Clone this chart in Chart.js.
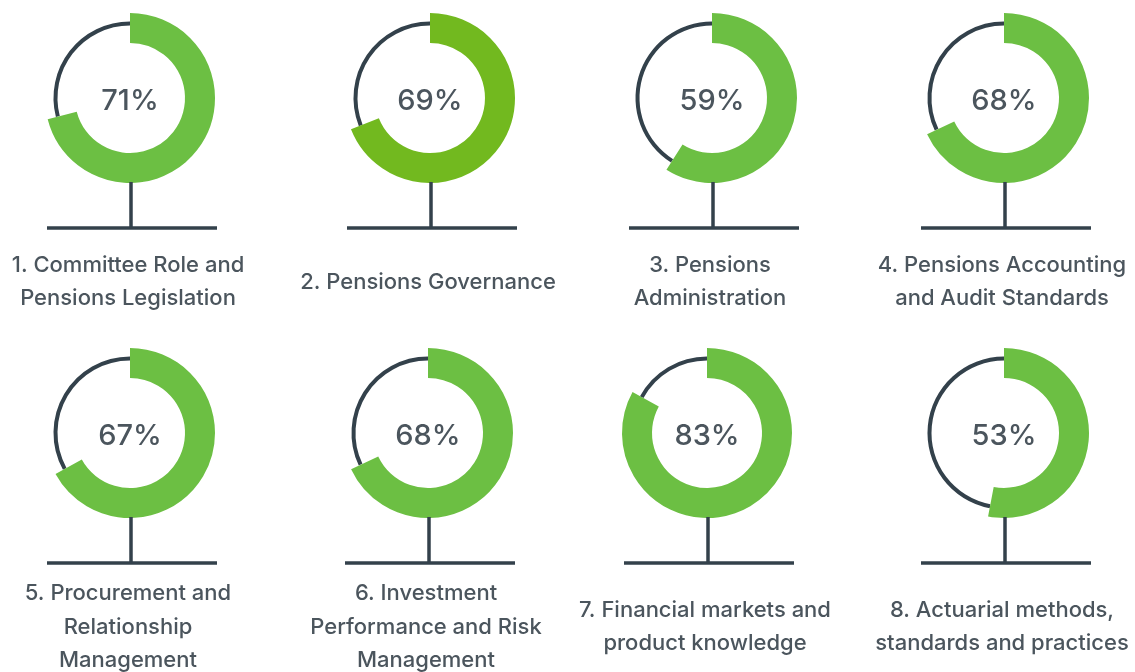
<!DOCTYPE html>
<html><head><meta charset="utf-8">
<script src="https://cdn.jsdelivr.net/npm/chart.js@4.4.0/dist/chart.umd.min.js"></script>
<style>
html,body{margin:0;padding:0;background:#fff;width:1135px;height:672px;overflow:hidden;}
.g{position:absolute;width:300px;height:340px;}
</style></head><body>
<script>
// ---- data ----
const categories = [
  ["1. Committee Role and","Pensions Legislation"],
  ["2. Pensions Governance"],
  ["3. Pensions","Administration"],
  ["4. Pensions Accounting","and Audit Standards"],
  ["5. Procurement and","Relationship","Management"],
  ["6. Investment","Performance and Risk","Management"],
  ["7. Financial markets and","product knowledge"],
  ["8. Actuarial methods,","standards and practices"]
];
const scores = [71, 69, 59, 68, 67, 68, 83, 53];
const valueLabels = scores.map(v => v + '%');

// ---- layout / style ----
const centersX = [130, 430, 712, 1004, 130, 428, 707, 1004];
const centersY = [98, 98, 98, 98, 433, 433, 433, 433];
const labelOffset = [184, 184, 184, 184, 194, 194, 194, 194];
const greens = ['#6cbf43', '#72b91f', '#6cbf43', '#6cbf43', '#6cbf43', '#6cbf43', '#6cbf43', '#6cbf43'];
const DARK = '#33414b';
const TEXT = '#4b555d';
const CW = 300, CH = 340, R = 85;
const T = 'rgba(0,0,0,0)';

const gaugeDecor = {
  id: 'gaugeDecor',
  afterDraw(chart, args, opts) {
    const meta = chart.getDatasetMeta(0);
    const arc = meta.data[0];
    const x = arc.x, y = arc.y, r = meta.controller.outerRadius;
    const ctx = chart.ctx;
    ctx.save();
    ctx.strokeStyle = DARK;
    ctx.lineWidth = 3.5;
    ctx.beginPath();
    ctx.moveTo(x + 1, y + r - 1);
    ctx.lineTo(x + 1, y + r + 45);
    ctx.stroke();
    ctx.beginPath();
    ctx.moveTo(x - r + 2, y + r + 45);
    ctx.lineTo(x + r + 2, y + r + 45);
    ctx.stroke();
    ctx.fillStyle = TEXT;
    ctx.textAlign = 'center';
    ctx.textBaseline = 'middle';
    ctx.font = '500 29px Inter';
    ctx.fillText(opts.value, x, y + 3);
    ctx.font = '500 22px Inter';
    const lines = opts.lines, lh = 33.5;
    const start = y + opts.offset - (lines.length - 1) * lh / 2;
    lines.forEach((t, i) => ctx.fillText(t, x - 2, start + i * lh));
    ctx.restore();
  }
};

function makeCanvas(i) {
  const c = document.createElement('canvas');
  c.className = 'g';
  c.width = CW; c.height = CH;
  c.style.left = (centersX[i] - CW / 2) + 'px';
  c.style.top = (centersY[i] - 98) + 'px';
  document.body.appendChild(c);
  return c;
}

function baseOptions(radius, cutout) {
  return {
    responsive: false,
    maintainAspectRatio: false,
    animation: false,
    devicePixelRatio: 1,
    radius: radius,
    cutout: cutout,
    layout: { padding: { left: (CW - 2 * R) / 2, right: (CW - 2 * R) / 2, top: 13, bottom: CH - 13 - 2 * R } },
    plugins: { legend: { display: false }, tooltip: { enabled: false } }
  };
}

scores.forEach((v, i) => {
  // thin remainder ring (underneath)
  const c1 = makeCanvas(i);
  new Chart(c1, {
    type: 'doughnut',
    data: { labels: ['score', 'rest'],
      datasets: [{ data: [v, 100 - v], backgroundColor: [T, DARK], borderWidth: 0 }] },
    options: baseOptions(76.5, (72.5 / 76.5 * 100) + '%')
  });
  // green score ring (on top)
  const c2 = makeCanvas(i);
  const o = baseOptions(R, (55 / 85 * 100) + '%');
  o.plugins.gaugeDecor = { value: valueLabels[i], lines: categories[i], offset: labelOffset[i] };
  new Chart(c2, {
    type: 'doughnut',
    data: { labels: ['score', 'rest'],
      datasets: [{ data: [v, 100 - v], backgroundColor: [greens[i], T], borderWidth: 0 }] },
    options: o,
    plugins: [gaugeDecor]
  });
});
</script>
</body></html>
